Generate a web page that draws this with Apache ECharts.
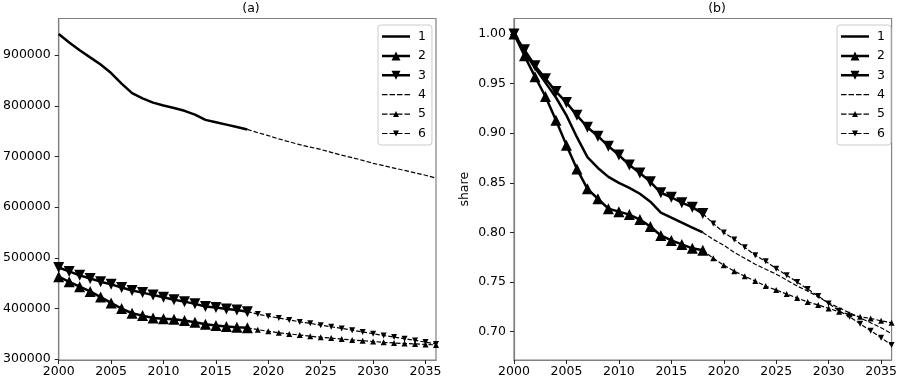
<!DOCTYPE html>
<html><head><meta charset="utf-8">
<script src="https://cdn.jsdelivr.net/npm/echarts@6/dist/echarts.min.js"></script>
<style>html,body{margin:0;padding:0;background:#fff}#c{width:900px;height:379px}</style>
</head><body><div id="c"></div>
<script>
// ---- data ----
const seriesNames = ["1", "2", "3", "4", "5", "6"];
const yearsHist = [2000,2001,2002,2003,2004,2005,2006,2007,2008,2009,2010,2011,2012,2013,2014,2015,2016,2017,2018];
const yearsProj = [2018,2019,2020,2021,2022,2023,2024,2025,2026,2027,2028,2029,2030,2031,2032,2033,2034,2035,2036];

// panel (a): absolute values
const absS1 = [942000,925000,910000,895800,881700,864800,844000,825200,814800,806400,800700,796000,790300,782800,772400,767700,763000,758300,753600];
const absS2 = [463000,452800,443100,433800,422700,411100,400000,390800,386100,381500,380100,378700,376400,373200,369000,366700,364800,363000,362100];
const absS3 = [481000,473300,465600,459400,453100,447800,441600,435800,431500,426600,422300,417500,413700,409300,404000,401900,399200,397100,393900];
const absS4 = [753600,747000,741400,734800,729100,723500,718700,714000,708400,702700,698000,692400,686700,682000,677300,672600,667900,663200,657500];
const absS5 = [362100,358400,355100,352300,350000,347700,345400,343500,341700,339800,338000,336600,335000,333400,332200,331000,330300,329200,328300];
const absS6 = [393900,389100,384800,381400,377600,373700,370900,367200,364100,360800,357400,354000,350400,346800,343900,340500,337200,333800,330200];

// panel (b): share of 2000 value
const shareS1 = [1.000,0.982,0.966,0.951,0.936,0.918,0.896,0.876,0.865,0.856,0.850,0.845,0.839,0.831,0.820,0.815,0.810,0.805,0.800];
const shareS2 = [1.000,0.978,0.957,0.937,0.913,0.888,0.864,0.844,0.834,0.824,0.821,0.818,0.813,0.806,0.797,0.792,0.788,0.784,0.782];
const shareS3 = [1.000,0.984,0.968,0.955,0.942,0.931,0.918,0.906,0.897,0.887,0.878,0.868,0.860,0.851,0.840,0.8355,0.830,0.8255,0.819];
const shareS4 = [0.800,0.793,0.787,0.780,0.774,0.768,0.763,0.758,0.752,0.746,0.741,0.735,0.729,0.724,0.719,0.714,0.709,0.704,0.698];
const shareS5 = [0.782,0.774,0.767,0.761,0.756,0.751,0.746,0.742,0.738,0.734,0.730,0.727,0.7235,0.720,0.7175,0.715,0.7134,0.711,0.709];
const shareS6 = [0.819,0.809,0.800,0.793,0.785,0.777,0.771,0.7635,0.757,0.750,0.743,0.736,0.7285,0.721,0.715,0.708,0.701,0.694,0.6865];

// tick labels
const xTicks = [2000, 2005, 2010, 2015, 2020, 2025, 2030, 2035];
const yTicksA = [300000, 400000, 500000, 600000, 700000, 800000, 900000];
const yTicksB = [0.70, 0.75, 0.80, 0.85, 0.90, 0.95, 1.00];
const titles = ["(a)", "(b)"];
const yNameB = "share";

// ---- chart ----
const FONT = 'DejaVu Sans';
const FS = 12.5;
const chart = echarts.init(document.getElementById('c'), null, {renderer: 'canvas'});

function pairs(xs, ys) { return xs.map((x, i) => [x, ys[i]]); }

const styles = [
  {symbol: 'none', size: 0, rot: 0, width: 2.5, dash: 'solid'},
  {symbol: 'triangle', size: 11, rot: 0, width: 2.5, dash: 'solid'},
  {symbol: 'triangle', size: 11, rot: 180, width: 2.5, dash: 'solid'},
  {symbol: 'none', size: 0, rot: 0, width: 1.2, dash: [4.5, 2]},
  {symbol: 'triangle', size: 6, rot: 0, width: 1.2, dash: [4.5, 2]},
  {symbol: 'triangle', size: 6, rot: 180, width: 1.2, dash: [4.5, 2]}
];

// legend icons (28 px wide samples, filled shapes)
const dashesThin = (y) => `M0,${y}h5.5v1.2h-5.5z M7.5,${y}h5.5v1.2h-5.5z M15,${y}h5.5v1.2h-5.5z M22.5,${y}h5.5v1.2h-5.5z`;
const legendIcons = [
  'path://M0,0H28V2.5H0Z',
  'path://M0,3.25H28V5.75H0Z M9.5,9L14,0L18.5,9Z',
  'path://M0,3.25H28V5.75H0Z M9.5,0L18.5,0L14,9Z',
  'path://' + dashesThin(0),
  'path://' + dashesThin(2.4) + ' M11,6L14,0L17,6Z',
  'path://' + dashesThin(2.4) + ' M11,0L17,0L14,6Z'
];

function mk(idx, gi, xs, ys) {
  const s = styles[idx];
  return {
    name: seriesNames[idx], type: 'line', xAxisIndex: gi, yAxisIndex: gi,
    data: pairs(xs, ys),
    symbol: s.symbol, symbolSize: s.size, symbolRotate: s.rot,
    showSymbol: s.symbol !== 'none',
    lineStyle: {color: '#000', width: s.width, type: s.dash},
    itemStyle: {color: '#000'},
    emphasis: {disabled: true},
    animation: false, z: 2 + idx
  };
}

const axisLine = {show: true, lineStyle: {color: '#808080', width: 1.2}};
const axisTick = {show: true, length: 4, lineStyle: {color: '#222', width: 1}};
const lbl = {color: '#000', fontSize: FS, fontFamily: FONT};

function xAxis(gi) {
  return {
    type: 'value', gridIndex: gi, min: 2000, max: 2036,
    axisLine, splitLine: {show: false},
    axisTick: Object.assign({customValues: xTicks}, axisTick),
    axisLabel: Object.assign({customValues: xTicks, margin: 5, formatter: v => String(v)}, lbl)
  };
}

function legend(left) {
  return {
    orient: 'vertical', left: left, top: 25,
    itemWidth: 28, itemHeight: 12, itemGap: 6.4,
    padding: [5, 6, 5, 4],
    backgroundColor: '#fff', borderColor: '#cccccc', borderWidth: 1, borderRadius: 3,
    textStyle: {fontSize: FS, color: '#000', fontFamily: FONT, padding: [0, 0, 0, 3]},
    selectedMode: false,
    symbolKeepAspect: true,
    itemStyle: {color: '#000', borderWidth: 0},
    data: seriesNames.map((n, i) => ({name: n, icon: legendIcons[i]}))
  };
}

const titleStyle = {fontSize: FS, fontWeight: 'normal', color: '#000', fontFamily: FONT};

const option = {
  animation: false,
  backgroundColor: '#fff',
  textStyle: {fontFamily: FONT},
  title: [
    {text: titles[0], left: 246, top: -3, textAlign: 'center', textStyle: titleStyle},
    {text: titles[1], left: 712, top: -3, textAlign: 'center', textStyle: titleStyle}
  ],
  grid: [
    {left: 56, right: 464, top: 18.5, bottom: 19, show: true, borderColor: '#808080', borderWidth: 1.2, backgroundColor: 'transparent'},
    {left: 514, right: 4, top: 18.5, bottom: 19, show: true, borderColor: '#808080', borderWidth: 1.2, backgroundColor: 'transparent'}
  ],
  xAxis: [xAxis(0), xAxis(1)],
  yAxis: [
    {
      type: 'value', gridIndex: 0, min: 298500, max: 972500,
      axisLine, splitLine: {show: false},
      axisTick: Object.assign({customValues: yTicksA}, axisTick),
      axisLabel: Object.assign({customValues: yTicksA, margin: 8, formatter: v => String(v)}, lbl)
    },
    {
      type: 'value', gridIndex: 1, min: 0.6715, max: 1.0156,
      name: yNameB, nameLocation: 'middle', nameGap: 43, nameRotate: 90,
      nameTextStyle: {color: '#000', fontSize: FS, fontFamily: FONT},
      axisLine, splitLine: {show: false},
      axisTick: Object.assign({customValues: yTicksB}, axisTick),
      axisLabel: Object.assign({customValues: yTicksB, margin: 8, formatter: v => v.toFixed(2)}, lbl)
    }
  ],
  legend: [legend(378), legend(837)],
  series: [
    mk(0, 0, yearsHist, absS1), mk(1, 0, yearsHist, absS2), mk(2, 0, yearsHist, absS3),
    mk(3, 0, yearsProj, absS4), mk(4, 0, yearsProj, absS5), mk(5, 0, yearsProj, absS6),
    mk(0, 1, yearsHist, shareS1), mk(1, 1, yearsHist, shareS2), mk(2, 1, yearsHist, shareS3),
    mk(3, 1, yearsProj, shareS4), mk(4, 1, yearsProj, shareS5), mk(5, 1, yearsProj, shareS6)
  ]
};
chart.setOption(option);
</script>
</body></html>
